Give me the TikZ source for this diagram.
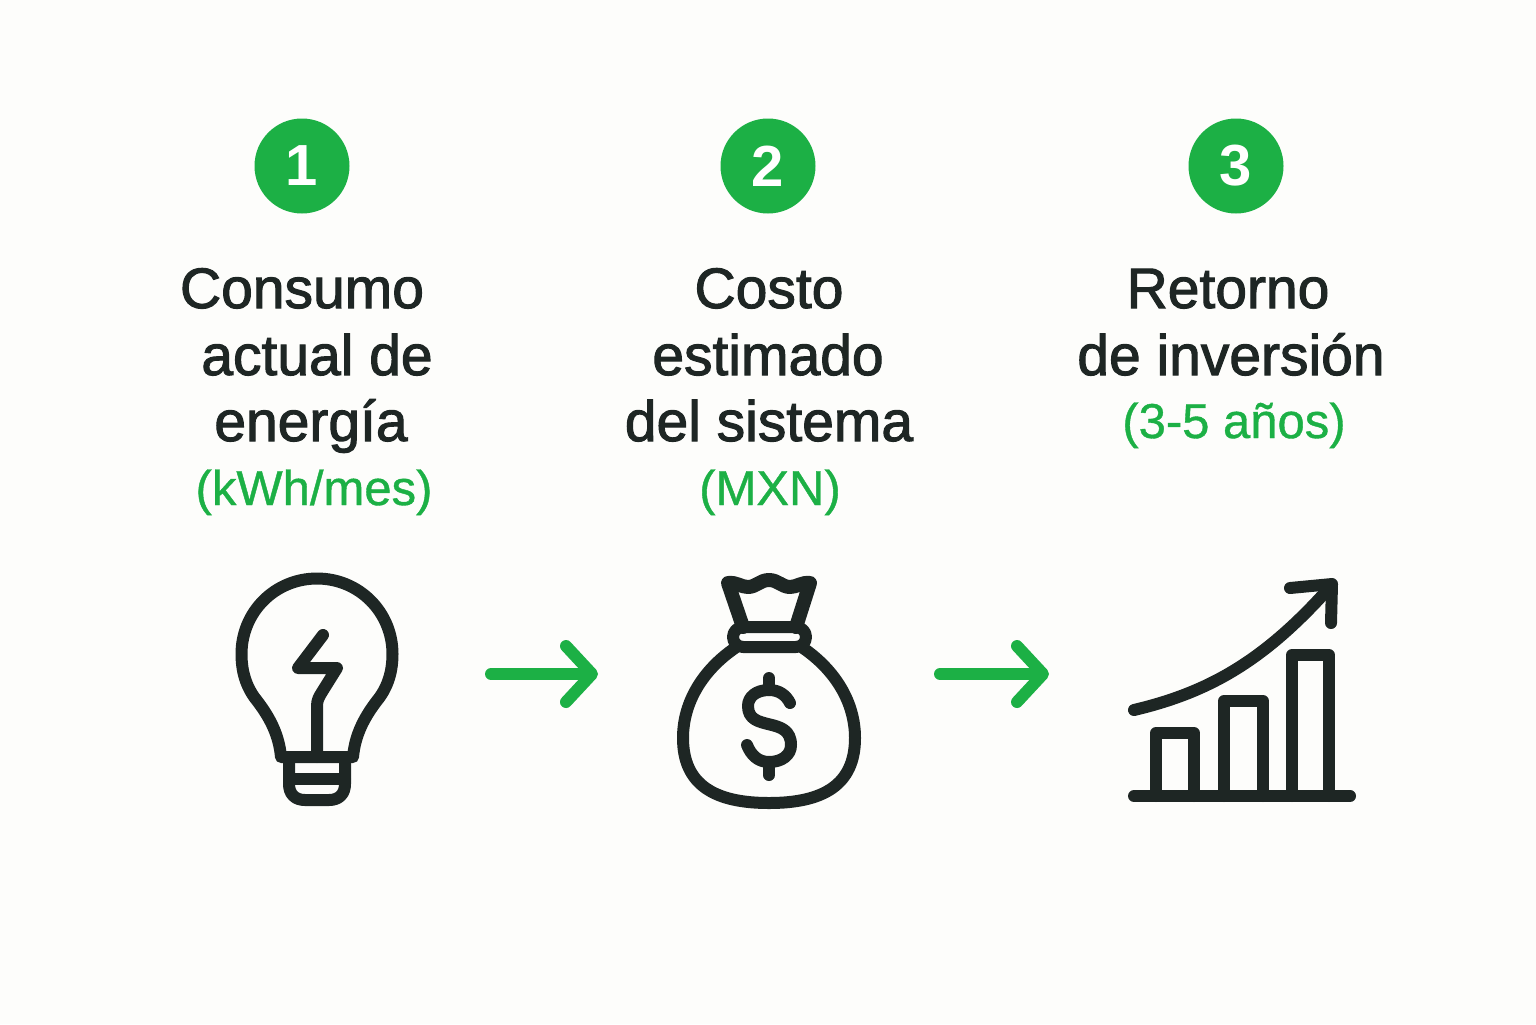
\documentclass[tikz,border=0pt]{standalone}
\usepackage{fontspec}
\setmainfont{Liberation Sans}
\newfontfamily\headfont[FakeBold=1.8]{Liberation Sans}
\newfontfamily\notefont[FakeBold=0.8]{Liberation Sans}
\usetikzlibrary{arrows.meta}
\definecolor{inkdark}{HTML}{1E2624}
\definecolor{leafgreen}{HTML}{1CB045}
\definecolor{paper}{HTML}{FDFDFB}
\tikzset{
  stepdot/.style={circle,fill=leafgreen,text=white,minimum size=47.5pt,inner sep=0pt,font=\bfseries\fontsize{29}{29}\selectfont},
  headline/.style={anchor=base,text=inkdark,inner sep=0pt,font=\headfont\fontsize{28.5}{28.5}\selectfont},
  noteline/.style={anchor=base,text=leafgreen,inner sep=0pt,font=\notefont\fontsize{24.5}{24.5}\selectfont},
  iconline/.style={draw=inkdark,line width=6pt,line cap=round,line join=round},
  flowarrow/.style={draw=leafgreen,line width=6pt,line cap=round,-{Straight Barb[length=13pt,width=28pt,round]}},
}
\begin{document}
\begin{tikzpicture}[x=0.5pt,y=-0.5pt]
  \fill[paper] (0,0) rectangle (1536,1024);
  \useasboundingbox (0,0) rectangle (1536,1024);
  \foreach \x/\n in {302/1,768/2,1236/3} {
    \node[stepdot] (step\n) at (\x,166) {\n};
  }
  % first column
  \node[headline] (consumoA) at (302,308) {Consumo};
  \node[headline] (consumoB) at (317,375) {actual de};
  \node[headline] (consumoC) at (311,441) {energía};
  \node[noteline] (consumoD) at (314,505) {(kWh/mes)};
  % second column
  \node[headline] (costoA) at (769,308) {Costo};
  \node[headline] (costoB) at (768,375) {estimado};
  \node[headline] (costoC) at (769,441) {del sistema};
  \node[noteline] (costoD) at (770,505) {(MXN)};
  % third column
  \node[headline] (retornoA) at (1228,308) {Retorno};
  \node[headline] (retornoB) at (1231,375) {de inversión};
  \node[noteline] (retornoC) at (1234,438) {(3-5 años)};
  % bulb
  \draw[iconline] (281,757) .. controls (279,735) and (270,718) .. (258,702)
    .. controls (248,690) and (241.5,675) .. (241.5,654)
    .. controls (241.5,612) and (275,578.5) .. (317,578.5)
    .. controls (359,578.5) and (392.5,612) .. (392.5,654)
    .. controls (392.5,675) and (386,690) .. (376,702)
    .. controls (364,718) and (355,735) .. (353,757) -- cycle;
  \draw[iconline] (289,757) -- (289,784) .. controls (289,794) and (295,800) .. (305,800)
    -- (329,800) .. controls (339,800) and (345,794) .. (345,784) -- (345,757);
  \draw[iconline] (289,779) -- (345,779);
  \draw[iconline] (323,635) -- (298,668) -- (337,668) -- (322,692)
    .. controls (319,697) and (317,700) .. (317,706) -- (317,757);
  % money bag
  \draw[iconline,line width=7pt] (743,627) -- (728,583)
    .. controls (737,582) and (741,587) .. (748,587)
    .. controls (756,587) and (760,580) .. (769,580)
    .. controls (778,580) and (782,587) .. (790,587)
    .. controls (797,587) and (801,582) .. (810,583) -- (796,627);
  \draw[iconline,rounded corners=5pt] (733,627) rectangle (806,647);
  \draw[iconline] (735,648) .. controls (703,670) and (683,702) .. (683,738)
    .. controls (683,785) and (715,803) .. (769,803)
    .. controls (823,803) and (855,785) .. (855,738)
    .. controls (855,702) and (835,670) .. (803,648);
  \draw[iconline] (790,703) .. controls (786,695) and (779,690) .. (769,690)
    .. controls (756,690) and (748,697) .. (748,706)
    .. controls (748,733) and (791,715) .. (791,745)
    .. controls (791,755) and (782,762) .. (769,762)
    .. controls (758,762) and (751,755) .. (747,745);
  \draw[iconline] (769,678) -- (769,690);
  \draw[iconline] (769,762) -- (769,775);
  % rising bars
  \draw[iconline] (1134,796) -- (1350,796);
  \foreach \xa/\xb/\ytop in {1156/1194/733,1224/1263/701,1292/1329/655} {
    \draw[iconline] (\xa,796) -- (\xa,\ytop) -- (\xb,\ytop) -- (\xb,796);
  }
  \draw[iconline] (1134,710) .. controls (1210,692) and (1265,660) .. (1330,587);
  \draw[iconline] (1290,588) -- (1332,584) -- (1331,623);
  % arrows between icons
  \coordinate (flowAstart) at (491,674);
  \coordinate (flowAend) at (598,674);
  \coordinate (flowBstart) at (940,674);
  \coordinate (flowBend) at (1049,674);
  \draw[flowarrow] (flowAstart) -- (flowAend);
  \draw[flowarrow] (flowBstart) -- (flowBend);
\end{tikzpicture}
\end{document}
